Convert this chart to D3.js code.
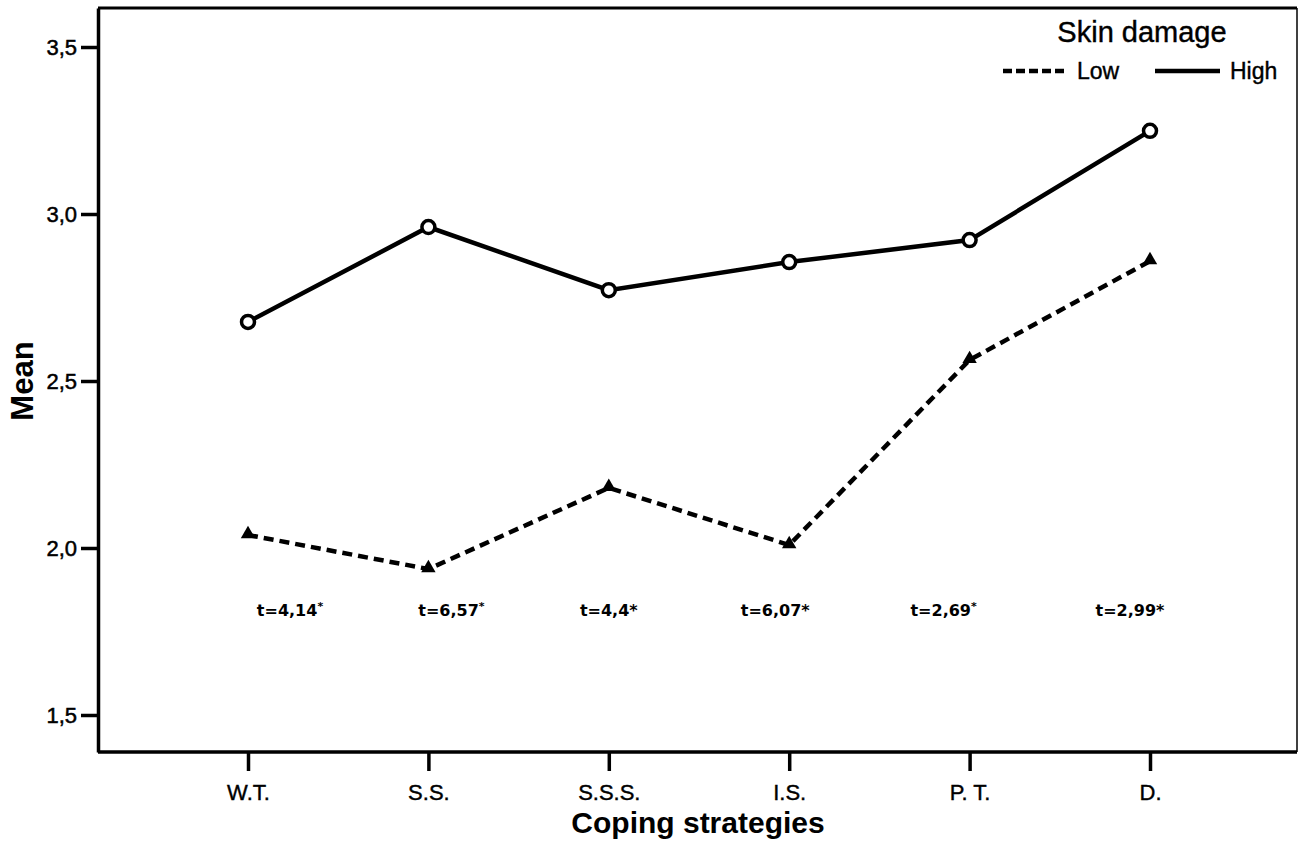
<!DOCTYPE html>
<html>
<head>
<meta charset="utf-8">
<script src="https://cdn.jsdelivr.net/npm/d3@7"></script>
<style>
  body { margin: 0; background: #fff; }
</style>
</head>
<body>
<div id="chart"></div>
<script>
const categories = ["W.T.", "S.S.", "S.S.S.", "I.S.", "P. T.", "D."];
const highValues = [2.677, 2.961, 2.772, 2.856, 2.922, 3.249];
const lowValues  = [2.039, 1.937, 2.180, 2.009, 2.563, 2.859];
const tLabels    = ["t=4,14", "t=6,57", "t=4,4", "t=6,07", "t=2,69", "t=2,99"];
const tStarSup   = [true, true, false, false, true, false];
const yTicks     = [1.5, 2.0, 2.5, 3.0, 3.5];

const W = 1298, H = 843;
const margin = {top: 8, right: 1, bottom: 91, left: 98};
const width = W - margin.left - margin.right,
      height = H - margin.top - margin.bottom;
const sans = "Liberation Sans, Arial, sans-serif";

// t label shifts relative to the category position
const tShift = [42, 23, 0, -14, -26, -20];

const svg = d3.select("#chart").append("svg")
    .attr("width", W).attr("height", H)
    .attr("font-family", sans);

const g = svg.append("g")
    .attr("transform", `translate(${margin.left}, ${margin.top})`);

const x = d3.scalePoint()
    .domain(categories)
    .range([150, 1052]);

const y = d3.scaleLinear()
    .domain([1.3892, 3.6168])
    .range([height, 0]);

const fmt = d => d.toFixed(1).replace(".", ",");

// frame
g.append("line").attr("x1", 0).attr("x2", width).attr("y1", 0).attr("y2", 0)
  .attr("stroke", "#000").attr("stroke-width", 3);
g.append("line").attr("x1", width).attr("x2", width).attr("y1", 0).attr("y2", height)
  .attr("stroke", "#000").attr("stroke-width", 1.5);

const yAxis = g.append("g")
    .call(d3.axisLeft(y).tickValues(yTicks).tickFormat(fmt).tickSize(17).tickSizeOuter(0));
yAxis.select(".domain").attr("stroke-width", 3.5);
yAxis.selectAll(".tick line").attr("stroke-width", 3.5);
yAxis.selectAll(".tick text").attr("font-size", 22).attr("dx", -1)
  .attr("font-family", sans).attr("fill", "#000")
  .attr("stroke", "#000").attr("stroke-width", 0.5);

const xAxis = g.append("g")
    .attr("transform", `translate(0, ${height})`)
    .call(d3.axisBottom(x).tickSize(19).tickSizeOuter(0));
xAxis.select(".domain").attr("d", `M0,0H${width}`).attr("stroke-width", 3.5);
xAxis.selectAll(".tick line").attr("stroke-width", 3.5);
xAxis.selectAll(".tick text").attr("font-size", 22).attr("dy", "1.2em")
  .attr("font-family", sans).attr("fill", "#000")
  .attr("stroke", "#000").attr("stroke-width", 0.4);

// axis titles
svg.append("text")
  .attr("x", 698).attr("y", 833)
  .attr("text-anchor", "middle").attr("font-size", 30).attr("font-weight", "bold")
  .text("Coping strategies");

svg.append("text")
  .attr("transform", `translate(33, ${margin.top + y(2.5)}) rotate(-90)`)
  .attr("text-anchor", "middle").attr("font-size", 31).attr("font-weight", "bold")
  .text("Mean");

// lines
const line = d3.line()
  .x((d, i) => x(categories[i]))
  .y(d => y(d));

g.append("path").datum(lowValues)
  .attr("fill", "none").attr("stroke", "#000").attr("stroke-width", 4.5)
  .attr("stroke-dasharray", "10,6")
  .attr("d", line);

g.append("path").datum(highValues)
  .attr("fill", "none").attr("stroke", "#000").attr("stroke-width", 4.5)
  .attr("d", line);

// markers
g.selectAll(".hi").data(highValues).join("circle")
  .attr("class", "hi")
  .attr("cx", (d, i) => x(categories[i])).attr("cy", d => y(d))
  .attr("r", 6.5).attr("fill", "#fff").attr("stroke", "#000").attr("stroke-width", 3.5);

const tri = d3.symbol().type(d3.symbolTriangle).size(90);
g.selectAll(".lo").data(lowValues).join("path")
  .attr("class", "lo")
  .attr("transform", (d, i) => `translate(${x(categories[i])}, ${y(d) - 1})`)
  .attr("d", tri).attr("fill", "#000");

// t annotations
const tText = g.selectAll(".tlab").data(tLabels).join("text")
  .attr("class", "tlab")
  .attr("x", (d, i) => x(categories[i]) + tShift[i])
  .attr("y", 616 - margin.top)
  .attr("text-anchor", "middle")
  .attr("font-family", "DejaVu Sans, Verdana, sans-serif")
  .attr("font-weight", "bold").attr("font-size", 16);
tText.append("tspan").text(d => d);
tText.append("tspan")
  .text("*")
  .attr("font-size", (d, i) => tStarSup[i] ? 11 : 16)
  .attr("dy", (d, i) => tStarSup[i] ? -6 : 0);

// legend
const leg = svg.append("g");
leg.append("text").attr("x", 1142).attr("y", 42).attr("text-anchor", "middle")
  .attr("font-size", 29).attr("stroke", "#000").attr("stroke-width", 0.4)
  .text("Skin damage");
leg.append("line").attr("x1", 1003).attr("x2", 1064).attr("y1", 71).attr("y2", 71)
  .attr("stroke", "#000").attr("stroke-width", 4.5).attr("stroke-dasharray", "9,4");
leg.append("text").attr("x", 1077).attr("y", 79).attr("font-size", 23)
  .attr("stroke", "#000").attr("stroke-width", 0.4).text("Low");
leg.append("line").attr("x1", 1155).attr("x2", 1220).attr("y1", 71).attr("y2", 71)
  .attr("stroke", "#000").attr("stroke-width", 4.5);
leg.append("text").attr("x", 1230).attr("y", 79).attr("font-size", 23)
  .attr("stroke", "#000").attr("stroke-width", 0.4).text("High");
</script>
</body>
</html>
